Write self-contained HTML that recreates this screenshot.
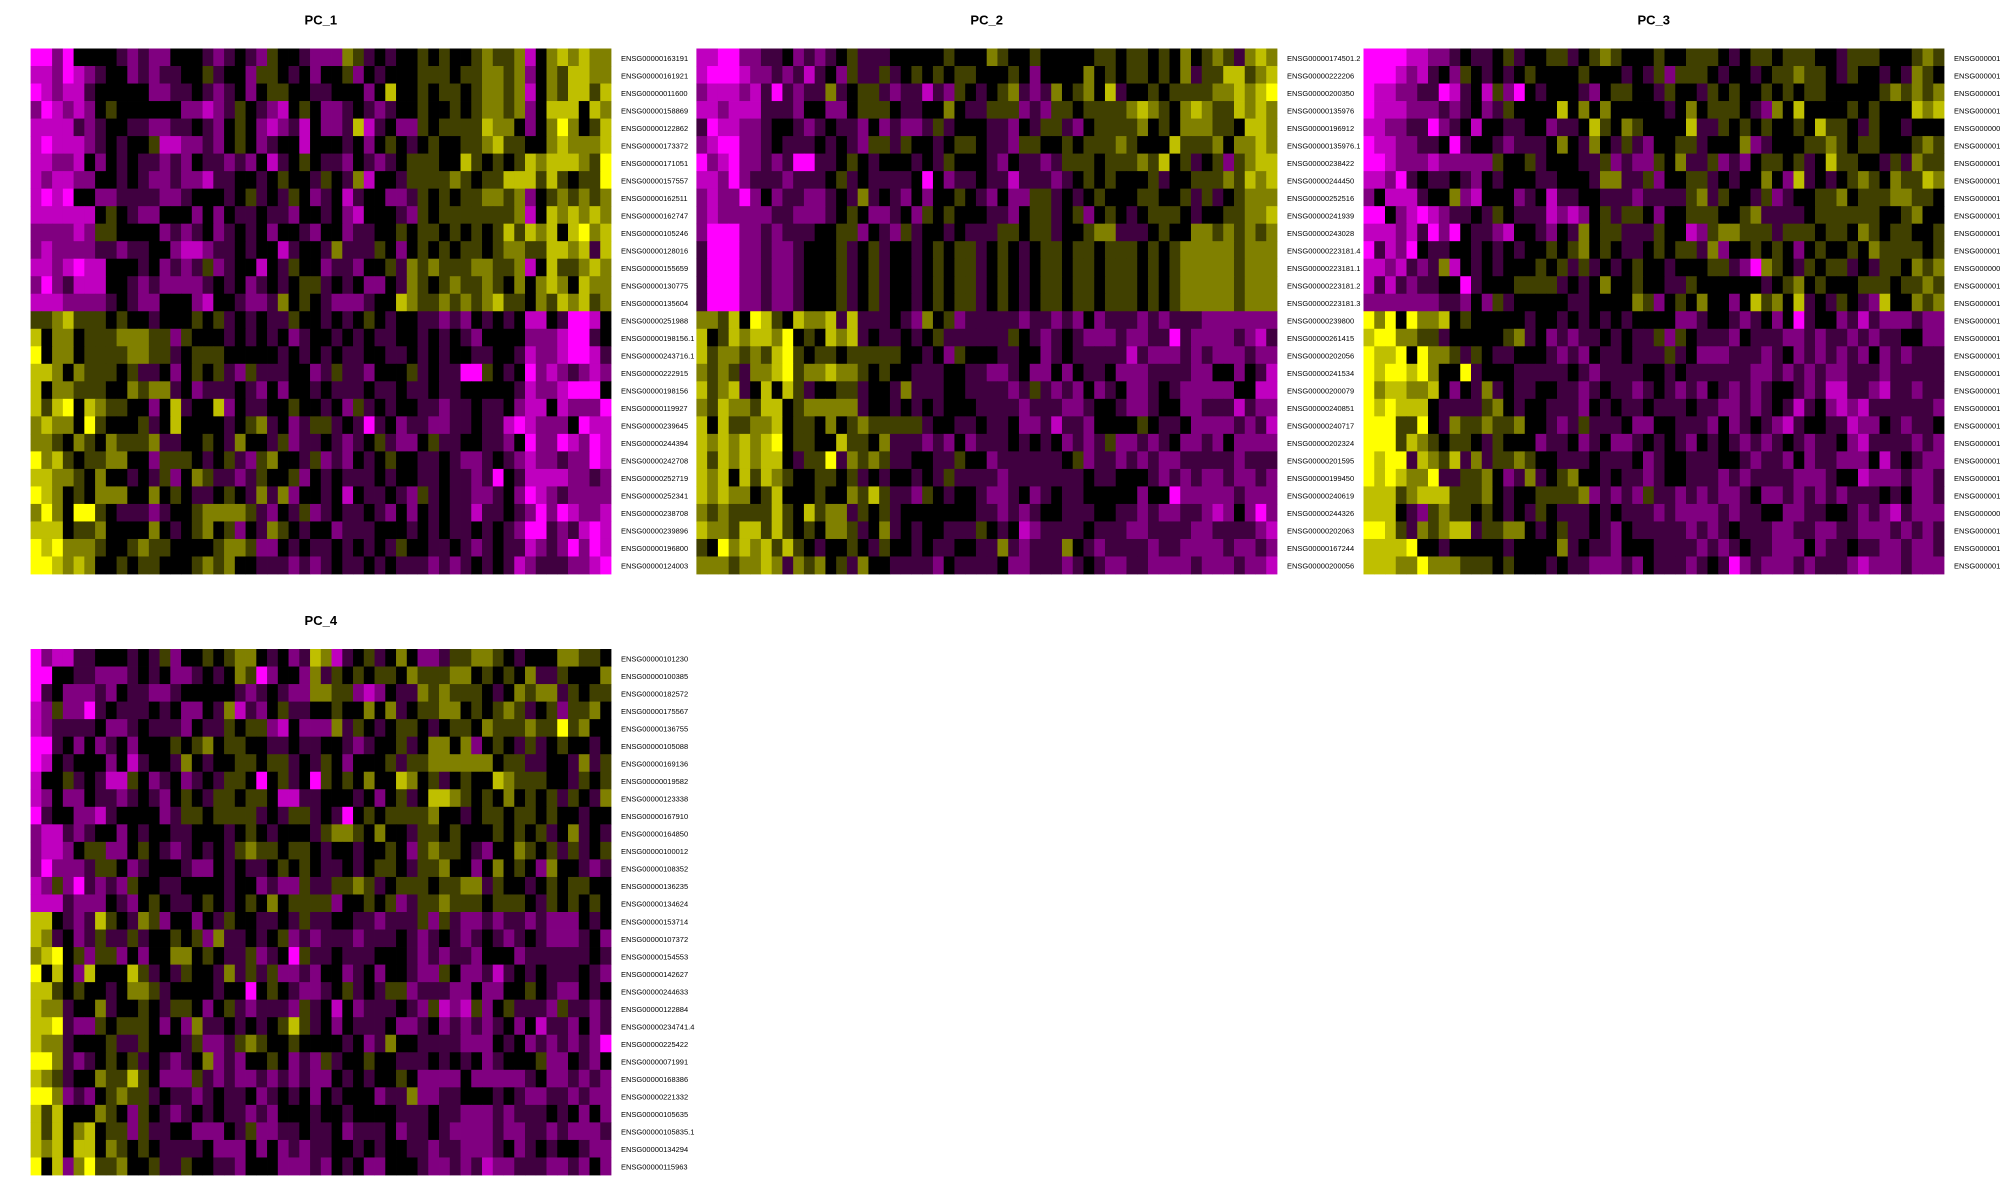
<!DOCTYPE html>
<html><head><meta charset="utf-8">
<style>
html,body{margin:0;padding:0;background:#fff;}
svg{display:block;font-family:"Liberation Sans",Arial,sans-serif;}
</style></head>
<body>
<svg id="chart" width="2000" height="1200" viewBox="0 0 2000 1200" xmlns="http://www.w3.org/2000/svg"></svg>
<script>
// Heatmap data: digits 0..8, 0 = strong magenta (low), 4 = black, 8 = strong yellow (high)
const pcTitles = ["PC_1","PC_2","PC_3","PC_4"];
const pc1Genes = ["ENSG00000163191","ENSG00000161921","ENSG00000011600","ENSG00000158869","ENSG00000122862","ENSG00000173372","ENSG00000171051","ENSG00000157557","ENSG00000162511","ENSG00000162747","ENSG00000105246","ENSG00000128016","ENSG00000155659","ENSG00000130775","ENSG00000135604","ENSG00000251988","ENSG00000198156.1","ENSG00000243716.1","ENSG00000222915","ENSG00000198156","ENSG00000119927","ENSG00000239645","ENSG00000244394","ENSG00000242708","ENSG00000252719","ENSG00000252341","ENSG00000238708","ENSG00000239896","ENSG00000196800","ENSG00000124003"];
const pc2Genes = ["ENSG00000174501.2","ENSG00000222206","ENSG00000200350","ENSG00000135976","ENSG00000196912","ENSG00000135976.1","ENSG00000238422","ENSG00000244450","ENSG00000252516","ENSG00000241939","ENSG00000243028","ENSG00000223181.4","ENSG00000223181.1","ENSG00000223181.2","ENSG00000223181.3","ENSG00000239800","ENSG00000261415","ENSG00000202056","ENSG00000241534","ENSG00000200079","ENSG00000240851","ENSG00000240717","ENSG00000202324","ENSG00000201595","ENSG00000199450","ENSG00000240619","ENSG00000244326","ENSG00000202063","ENSG00000167244","ENSG00000200056"];
const pc3Genes = ["ENSG00000174101","ENSG00000182101","ENSG00000176101","ENSG00000164101","ENSG00000000101","ENSG00000166101","ENSG00000148101","ENSG00000137101","ENSG00000185101","ENSG00000171101","ENSG00000143101","ENSG00000159101","ENSG00000000102","ENSG00000126101","ENSG00000113101","ENSG00000168101","ENSG00000152101","ENSG00000134101","ENSG00000178101","ENSG00000161101","ENSG00000145101","ENSG00000129101","ENSG00000187101","ENSG00000155101","ENSG00000141101","ENSG00000119101","ENSG00000000103","ENSG00000172101","ENSG00000163101","ENSG00000150101"];
const pc4Genes = ["ENSG00000101230","ENSG00000100385","ENSG00000182572","ENSG00000175567","ENSG00000136755","ENSG00000105088","ENSG00000169136","ENSG00000019582","ENSG00000123338","ENSG00000167910","ENSG00000164850","ENSG00000100012","ENSG00000108352","ENSG00000136235","ENSG00000134624","ENSG00000153714","ENSG00000107372","ENSG00000154553","ENSG00000142627","ENSG00000244633","ENSG00000122884","ENSG00000234741.4","ENSG00000225422","ENSG00000071991","ENSG00000168386","ENSG00000221332","ENSG00000105635","ENSG00000105835.1","ENSG00000134294","ENSG00000115963"];

const pc1Values = [
"002044443 232244432 343254432 226534344 545445655 614676766",
"112012344 232334453 442554342 445243444 555455665 624657766",
"012113444 442233432 342455443 344424744 545545665 614657757",
"201212454 444442212 354321454 223432344 544545665 624777476",
"111132344 332233432 454212314 223713422 545555766 424686457",
"101112343 445112232 454234414 443424543 454455675 544676667",
"112214243 433232433 232413454 332432345 554475454 576777658",
"121122443 432232213 344345443 543614435 555654557 775754558",
"101044223 333223444 345343542 341344223 545455665 624565656",
"111111454 322444242 433433244 342144432 545555555 614767676",
"222212554 444232342 343424432 442334454 554545457 576747867",
"212222332 334421123 343441344 363335424 545455456 655776737",
"112101144 434232352 344143544 233244536 565556655 614755676",
"202311144 323222234 342343455 343422436 545655654 646764766",
"111222234 322444214 432236454 322234476 556565675 546576756",
"556755545 443444545 343433544 343454344 332324343 411430014",
"746645556 665525444 343434234 434343344 343432444 422210034",
"846645555 665534555 444443434 343344334 343443344 312210013",
"776465554 533424545 325333442 353324445 343300543 402123212",
"746655544 656634233 343242443 433343343 343344444 312210004",
"757847655 442473447 243344544 342534344 332334334 211412220",
"676648544 453474444 345634235 534303423 322334331 012224011",
"665465465 556334454 364435233 432345322 453344332 402201201",
"867545566 442555434 532564435 232434544 334322343 212232201",
"776654644 343524653 323544524 343334344 334332304 311112232",
"876454666 446454334 543636244 341433432 534332234 201232222",
"686488543 332344566 665324352 343343242 434331334 320201221",
"777455644 446434564 524365434 423334443 434334343 200323101",
"878666544 565544445 665224343 343434354 433432343 312320201",
"887676445 455444565 644333232 343343433 323234343 123332210"];

const pc2Values = [
"110022334 232345333 444445444 654454444 455455454 645653676",
"100012232 313425335 345454554 445424444 645455454 635577567",
"211121303 233634553 233132543 456323645 647344545 555667678",
"112111333 244224555 433446433 555232554 555567654 676557676",
"301122344 323433242 322353444 332435532 455556454 666554776",
"210022343 334343255 354434554 332554454 555654447 555646676",
"021022323 003345434 443435444 324332355 545556574 534525677",
"112023332 333453433 334042334 331333234 545444534 455565767",
"212202423 322343634 324244543 242255343 454445544 535345666",
"212222233 222345422 342545444 332455345 245434555 434455667",
"200022323 334455243 253443433 355455344 566333454 466565656",
"300022322 344453453 443454553 454345545 545554545 666665666",
"300022322 344453453 443454553 454345545 545554545 666665666",
"300022322 344453453 443454553 454345545 545554545 666665666",
"300022322 344453453 443454553 454345545 545554545 666665666",
"665748754 766737333 432645233 333233232 423332323 332222222",
"745767768 454767343 343453333 335432343 222322330 322223213",
"756656578 545545555 544342544 433442343 333313222 323222322",
"656536678 566766545 443334433 223422424 334222333 322442431",
"756734747 534455344 363334433 332353232 423422343 222224411",
"657665774 566666344 343434443 333233322 344322344 223331322",
"747556674 554645655 555344334 334223133 244445433 422223231",
"767676784 554475546 333232423 334343423 235223234 223242222",
"757676774 355836565 334433544 233333345 233232322 333332333",
"767475765 445545343 443435333 323333333 433444323 232232232",
"767664574 445446575 332543443 223423433 444442440 222223222",
"656555575 475663545 344444443 323234433 344332322 332124202",
"766577575 454665346 343443335 434123333 433322333 322333321",
"548676757 543445435 443433443 363233364 323333233 222232232",
"666566763 656453644 333324333 342233323 432233222 232223221"];

const pc3Values = [
"000011223 433453445 534565444 544555434 554555443 555444565",
"000121342 543434544 445444343 525554344 345565543 544343654",
"011223301 341520434 443245544 354435454 454545544 444565656",
"011122232 342354444 746464444 434645554 326474444 545444767",
"112233023 414433442 334754654 444733545 454454755 435443444",
"011223340 344323334 643643532 445534446 234445565 455444565",
"001222122 222544534 443352322 546335232 455453475 544353655",
"112034334 324344433 444366335 244553434 464273434 565465576",
"241113446 214442341 334433323 333563544 352344556 455566554",
"004210123 343543331 212453554 244555445 633334555 555445644",
"111213020 433214432 436455333 544125665 553555455 465455445",
"031204334 434343445 456454334 545536244 545424544 546555545",
"112132361 434344454 535343454 434445532 065435455 343554656",
"131323344 034445555 343464454 433544444 434564544 455545565",
"222222233 242534444 433444465 245464424 756473435 432744656",
"868486674 544444344 343434344 442234432 342403442 313222322",
"788665534 444456342 323343433 525433324 333223233 232334422",
"877848665 354334443 232433433 353422233 323423232 324232333",
"878878644 834443333 343233334 434333333 223232322 333233333",
"867766742 436343344 332343323 432324323 234432311 332133233",
"878777433 335643443 332434334 333433223 234313421 213333332",
"888558436 556556443 235333422 443332423 432134433 122432334",
"888576545 543544423 342342234 343243432 323432334 213333232",
"878837657 363556544 333433342 344333443 233242332 224134322",
"878766833 556423634 564434332 344333232 333322234 412223223",
"777567775 556434455 556232325 332323223 422323232 333434223",
"777432565 545434354 333434333 232222323 344223344 323213222",
"887536567 735566434 533432433 333232343 332233223 322232323",
"777784434 444434444 634332444 333323234 332224233 433223223",
"777668666 555454443 433222324 333234302 322232333 212223222"];

const pc4Values = [
"021133444 343524454 566434237 613453464 223556654 344466554",
"004433222 343422343 465024426 354545546 555664545 463354446",
"034222324 332234444 432343226 655212433 656555434 656635455",
"125220343 334342243 613245334 454464634 556645456 534525564",
"123333422 343332433 545521422 263543455 434554655 565585644",
"003424234 244454564 554433433 443234453 466462454 353454434",
"014344424 134436434 455455343 542444535 566666645 533443635",
"144534311 542342343 554045340 545464476 453454476 555443545",
"124224332 343245435 545541133 444342453 477654546 454535436",
"034422134 444235545 555343553 430454555 564434554 554544344",
"211323442 434433444 345434443 566546443 554544454 545346343",
"211245522 454323434 356554554 344344542 565543244 654535345",
"202223554 234443224 343345454 334345543 556442464 542644323",
"125203232 544334444 344232253 355653455 545566354 434545544",
"111322243 245433454 345464555 524454523 556555455 543545454",
"774323754 365244243 544334353 344332333 525322323 323222434",
"763423533 534454526 334345232 333233343 234323432 343222342",
"678452552 424466454 335234053 343334443 232332444 233333343",
"847427444 753435443 635352232 442342443 225422313 434333432",
"775454434 665344443 440454322 345343552 333224224 454322434",
"766344634 454355424 532333253 414233343 251215245 333253323",
"778322545 554242633 434345753 424333422 342323234 241332423",
"766344453 354443522 356544544 443423644 333322243 423232320",
"886323454 534323462 324454232 534454433 343434234 445224324",
"765344655 754222532 322323232 243434454 222242222 234223232",
"886232456 553433234 334234342 434442336 223344434 322332322",
"757444654 254323434 332324443 443444433 343322232 333434242",
"757467455 253344222 435223343 342333423 343222232 233232223",
"767477465 454333342 224242323 344343443 323322234 234344322",
"847268556 445335443 324442223 243422444 322323122 333223242"];

const NS = "http://www.w3.org/2000/svg";
const svg = document.getElementById("chart");
const panels = [
  {title: pcTitles[0], genes: pc1Genes, values: pc1Values, x0: 30.6, x1: 611, y0: 48.5, y1: 574},
  {title: pcTitles[1], genes: pc2Genes, values: pc2Values, x0: 696.4, x1: 1277, y0: 48.5, y1: 574},
  {title: pcTitles[2], genes: pc3Genes, values: pc3Values, x0: 1363.5, x1: 1944, y0: 48.5, y1: 574},
  {title: pcTitles[3], genes: pc4Genes, values: pc4Values, x0: 30.6, x1: 611, y0: 649, y1: 1175}
];
function colorFor(v){
  const d = v - 4, t = Math.min(1, Math.abs(d) / 4);
  const c = Math.round(255 * t);
  return d < 0 ? `rgb(${c},0,${c})` : `rgb(${c},${c},0)`;
}
panels.forEach((p, pi) => {
  const g = document.createElementNS(NS, "g");
  
  
  svg.appendChild(g);
  const rows = p.values.map(s => s.replace(/\s+/g, ''));
  const nRows = rows.length, nCols = rows[0].length;
  const xScale = c => p.x0 + (p.x1 - p.x0) * c / nCols;
  const yScale = r => p.y0 + (p.y1 - p.y0) * r / nRows;
  rows.forEach((row, r) => {
    for (let c = 0; c < nCols; c++) {
      const rect = document.createElementNS(NS, "rect");
      
      
      const xa = xScale(c), xb = xScale(c + 1), ya = yScale(r), yb = yScale(r + 1);
      rect.setAttribute("x", xa.toFixed(2));
      rect.setAttribute("y", ya.toFixed(2));
      rect.setAttribute("width", (xb - xa + 0.4).toFixed(2));
      rect.setAttribute("height", (yb - ya + 0.4).toFixed(2));
      rect.setAttribute("fill", colorFor(+row[c]));
      g.appendChild(rect);
    }
  });
  const title = document.createElementNS(NS, "text");
  
  
  title.setAttribute("x", (p.x0 + p.x1) / 2);
  title.setAttribute("y", p.y0 - 24);
  title.setAttribute("text-anchor", "middle");
  title.setAttribute("font-size", "13");
  title.setAttribute("font-weight", "bold");
  title.setAttribute("fill", "#000");
  title.textContent = p.title;
  g.appendChild(title);
  p.genes.forEach((gene, r) => {
    const t = document.createElementNS(NS, "text");
    
    
    t.setAttribute("x", p.x1 + 10);
    t.setAttribute("y", (yScale(r) + yScale(r + 1)) / 2 + 3.5);
    t.setAttribute("font-size", "7.5");
    t.setAttribute("fill", "#000");
    t.textContent = gene;
    g.appendChild(t);
  });
});
</script>
</body></html>
